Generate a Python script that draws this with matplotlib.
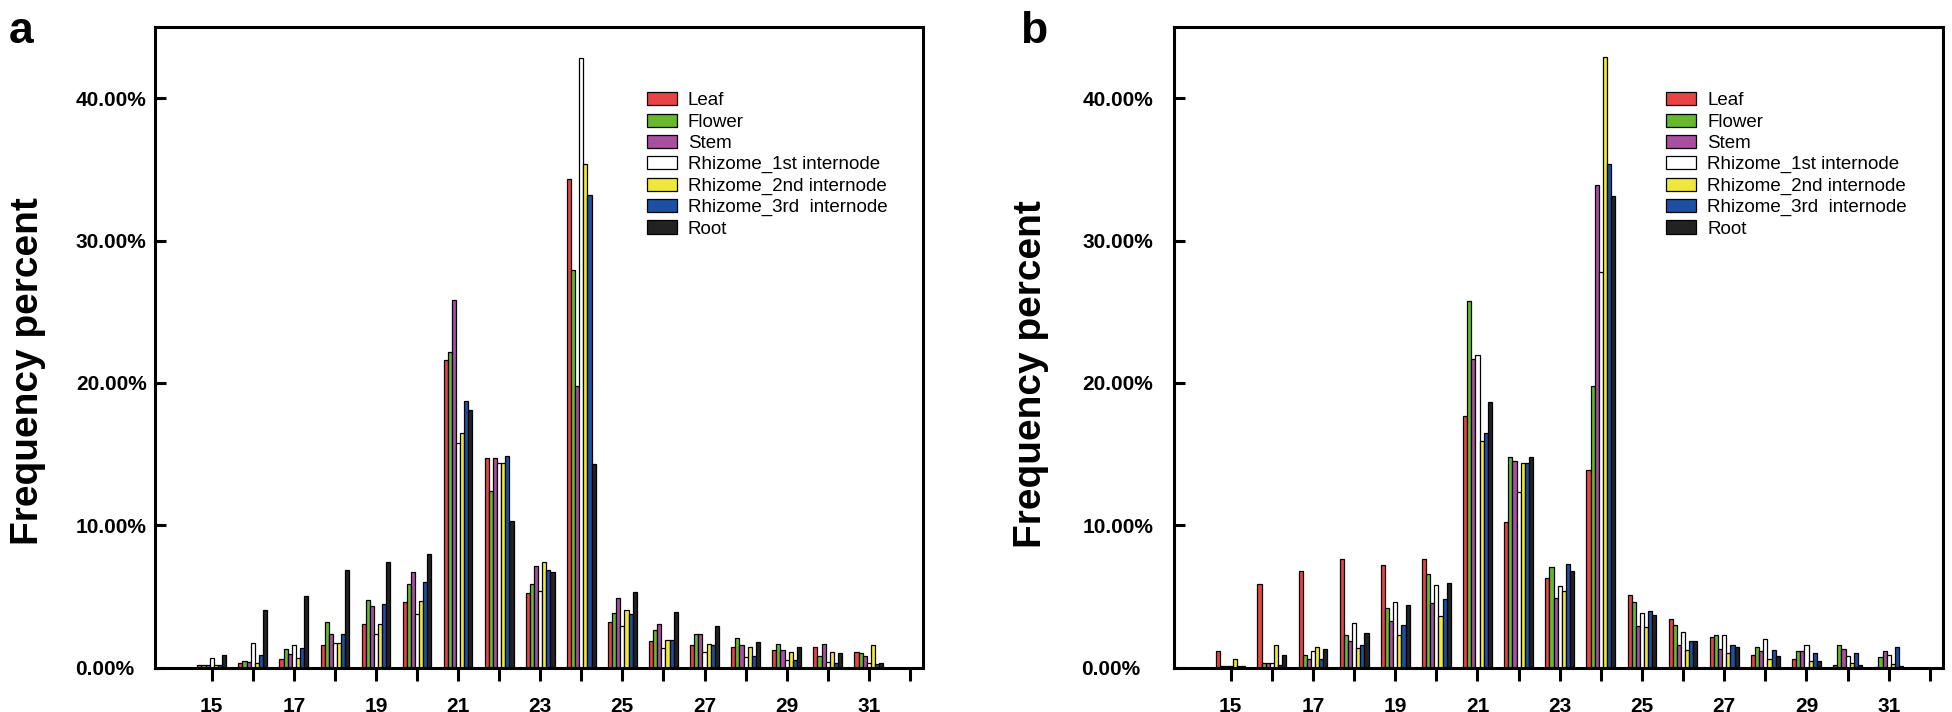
"""
plot.py
Length distribution of small RNAs per tissue, two panels (a, b).
"""

import numpy as np
import matplotlib
matplotlib.use("Agg")
import matplotlib.pyplot as plt

plt.rcParams['font.family'] = ['Liberation Sans', 'DejaVu Sans']

# read lengths (nt) that carry bars; ticks run on to 32
lengths = list(range(15, 32))
tick_positions = list(range(15, 33))
tick_labels = [str(n) if n % 2 == 1 else '' for n in tick_positions]
y_ticks = [0, 10, 20, 30, 40]
y_tick_labels = ['0.00%', '10.00%', '20.00%', '30.00%', '40.00%']

tissues = ['Leaf', 'Flower', 'Stem', 'Rhizome_1st internode',
           'Rhizome_2nd internode', 'Rhizome_3rd  internode', 'Root']
colors = ['#e84444', '#66b82e', '#a94f9f', '#ffffff', '#efe838', '#1d4fa3', '#222222']

# panel a (percent)
a_leaf = [0.2, 0.35, 0.58, 1.57, 3.09, 4.6, 21.6, 14.7, 5.2, 34.3, 3.2, 1.85, 1.57, 1.43, 1.26, 1.43, 1.12]
a_flower = [0.2, 0.45, 1.29, 3.2, 4.72, 5.87, 22.2, 12.4, 5.84, 27.9, 3.85, 2.64, 2.38, 2.08, 1.68, 0.82, 1.0]
a_stem = [0.2, 0.4, 0.98, 2.38, 4.32, 6.7, 25.8, 14.7, 7.1, 19.8, 4.88, 3.06, 2.38, 1.57, 1.26, 1.68, 0.84]
a_rh1 = [0.7, 1.7, 1.57, 1.7, 2.38, 3.74, 15.8, 14.4, 5.4, 42.8, 2.9, 1.38, 1.1, 0.72, 0.56, 0.4, 0.35]
a_rh2 = [0.2, 0.3, 0.7, 1.7, 3.09, 4.7, 16.5, 14.4, 7.38, 35.4, 4.02, 1.94, 1.68, 1.43, 1.12, 1.12, 1.57]
a_rh3 = [0.2, 0.86, 1.4, 2.38, 4.44, 6.0, 18.7, 14.87, 6.84, 33.2, 3.74, 1.94, 1.57, 0.82, 0.56, 0.35, 0.25]
a_root = [0.87, 4.07, 5.0, 6.85, 7.41, 7.95, 18.06, 10.3, 6.7, 14.3, 5.3, 3.9, 2.92, 1.82, 1.43, 1.0, 0.3]

# panel b (percent)
b_leaf = [1.18, 5.9, 6.75, 7.6, 7.17, 7.6, 17.7, 10.2, 6.3, 13.87, 5.1, 3.39, 2.17, 0.88, 0.62, 0.2, 0.05]
b_flower = [0.13, 0.33, 0.88, 2.29, 4.21, 6.6, 25.74, 14.8, 7.05, 19.75, 4.6, 3.0, 2.29, 1.46, 1.16, 1.58, 0.74]
b_stem = [0.13, 0.33, 0.57, 1.87, 3.25, 4.54, 21.7, 14.5, 4.9, 33.9, 2.95, 1.58, 1.3, 1.16, 1.16, 1.3, 1.16]
b_rh1 = [0.13, 0.33, 1.16, 3.13, 4.61, 5.79, 21.97, 12.3, 5.76, 27.8, 3.8, 2.52, 2.29, 2.0, 1.58, 0.8, 0.88]
b_rh2 = [0.6, 1.58, 1.46, 1.4, 2.25, 3.65, 15.88, 14.4, 5.35, 42.9, 2.84, 1.23, 1.0, 0.58, 0.45, 0.33, 0.23]
b_rh3 = [0.13, 0.19, 0.6, 1.58, 3.0, 4.8, 16.45, 14.4, 7.3, 35.4, 3.95, 1.87, 1.58, 1.2, 1.04, 1.04, 1.46]
b_root = [0.13, 0.88, 1.33, 2.45, 4.4, 5.93, 18.67, 14.8, 6.77, 33.1, 3.7, 1.87, 1.46, 0.8, 0.47, 0.2, 0.14]

panel_a = [a_leaf, a_flower, a_stem, a_rh1, a_rh2, a_rh3, a_root]
panel_b = [b_leaf, b_flower, b_stem, b_rh1, b_rh2, b_rh3, b_root]


def draw_panel(ax, series, label_pad):
    """Grouped bars, one bar per tissue at each read length."""
    x = np.array(lengths, dtype=float)
    width = 0.1
    for i, (vals, name, col) in enumerate(zip(series, tissues, colors)):
        ax.bar(x + (i - 3) * width, vals, width=width, color=col,
               edgecolor='black', linewidth=0.9, label=name)

    ax.set_xlim(13.62, 32.32)
    ax.set_ylim(0, 45)
    ax.set_xticks(tick_positions)
    ax.set_xticklabels(tick_labels, fontsize=15, fontweight='bold')
    ax.set_yticks(y_ticks)
    ax.set_yticklabels(y_tick_labels, fontsize=15, fontweight='bold')
    ax.tick_params(axis='x', direction='out', length=9, width=2.2, pad=12)
    ax.tick_params(axis='y', direction='in', length=8, width=2.2, pad=label_pad)
    # the 0.00% label sits a little further out than the others
    ax.yaxis.get_major_ticks()[0].set_pad(label_pad + 9)
    for side in ax.spines.values():
        side.set_linewidth(2.2)

    ax.legend(loc='upper left', bbox_to_anchor=(0.64, 0.898), frameon=False,
              fontsize=13.5, handlelength=1.6, handleheight=0.7,
              handletextpad=0.6, labelspacing=0.22, borderpad=0, borderaxespad=0)


fig = plt.figure(figsize=(19.52, 7.12), dpi=100)
ax_a = fig.add_axes([155 / 1952, 1 - 667.5 / 712, 768 / 1952, 640.5 / 712])
ax_b = fig.add_axes([1174 / 1952, 1 - 667.5 / 712, 769 / 1952, 640.5 / 712])

draw_panel(ax_a, panel_a, label_pad=6)
draw_panel(ax_b, panel_b, label_pad=15)

# panel letters and y labels sit in figure space
fig.text(9 / 1952, 1 - 43 / 712, 'a', fontsize=32, fontweight='bold', va='baseline')
fig.text(1020 / 1952, 1 - 43 / 712, 'b', fontsize=32, fontweight='bold', va='baseline')
fig.text(28 / 1952, 1 - 371 / 712, 'Frequency percent', fontsize=28, fontweight='bold',
         rotation=90, ha='center', va='center')
fig.text(1031 / 1952, 1 - 374 / 712, 'Frequency percent', fontsize=28, fontweight='bold',
         rotation=90, ha='center', va='center')

fig.savefig('out.png', dpi=100)
